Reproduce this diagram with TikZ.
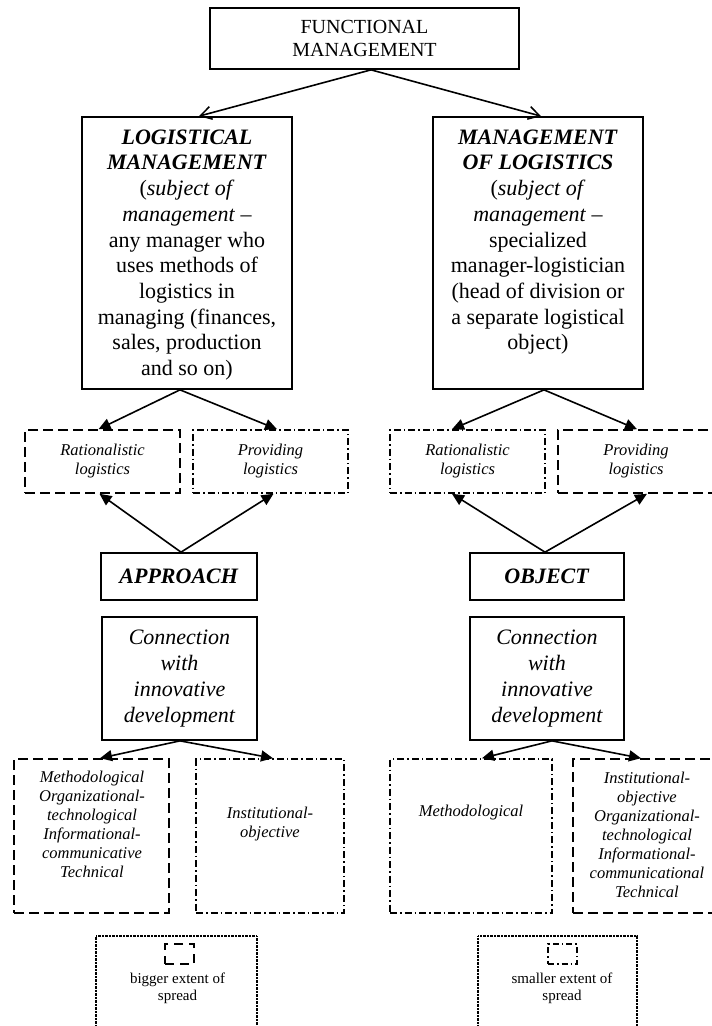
\documentclass[tikz,border=0pt]{standalone}
\usepackage{fontspec}
\setmainfont{Liberation Serif}
\usetikzlibrary{arrows.meta}
\tikzset{
  box/.style={draw, line width=1.7pt, inner sep=0pt},
  dbox/.style={draw, line width=1.6pt, inner sep=0pt, dash pattern=on 10pt off 5pt},
  ddbox/.style={draw, line width=1.6pt, inner sep=0pt, dash pattern=on 7pt off 3pt on 1.5pt off 3pt},
  lgbox/.style={draw, line width=1.2pt, inner sep=0pt, dash pattern=on 0.7pt off 0.7pt},
  bigtxt/.style={inner sep=0pt, align=center, font=\fontsize{22}{25.7}\selectfont},
  midtxt/.style={inner sep=0pt, align=center, font=\fontsize{20}{23}\selectfont},
  smalltxt/.style={inner sep=0pt, align=center, font=\fontsize{16.5}{19}\selectfont\itshape},
  legtxt/.style={inner sep=0pt, align=center, font=\fontsize{15}{17}\selectfont},
  openarr/.style={line width=1.6pt, -{Straight Barb[length=11pt,width=13pt,line width=1.5pt]}},
  fillarr/.style={line width=1.6pt, -{Triangle[length=12pt,width=11pt]}},
}
\begin{document}
\begin{tikzpicture}[x=1pt,y=-1pt]
\useasboundingbox (0,0) rectangle (712,1026);
% top
\node[box, minimum width=309pt, minimum height=61pt, midtxt] (fm) at (364.5,38.5) {FUNCTIONAL\\MANAGEMENT};
% big boxes
\node[box, minimum width=210pt, minimum height=272pt] (lm) at (187,253) {};
\node[bigtxt, anchor=north] (lmt) at (187,129.5) {\textbf{\textit{LOGISTICAL}}\\\textbf{\textit{MANAGEMENT}}\\(\textit{subject of}\\\textit{management} –\\any manager who\\uses methods of\\logistics in\\managing (finances,\\sales, production\\and so on)};
\node[box, minimum width=210pt, minimum height=272pt] (ml) at (538,253) {};
\node[bigtxt, anchor=north] (mlt) at (538,129.5) {\textbf{\textit{MANAGEMENT}}\\\textbf{\textit{OF LOGISTICS}}\\(\textit{subject of}\\\textit{management} –\\specialized\\manager-logistician\\(head of division or\\a separate logistical\\object)};
% row of small boxes
\node[dbox, minimum width=155pt, minimum height=63pt, smalltxt] (r1) at (102.5,461.5) {Rationalistic\\logistics};
\node[ddbox, minimum width=155pt, minimum height=63pt, smalltxt] (p1) at (270.5,461.5) {Providing\\logistics};
\node[ddbox, minimum width=155pt, minimum height=63pt, smalltxt] (r2) at (467.5,461.5) {Rationalistic\\logistics};
\node[dbox, minimum width=156pt, minimum height=63pt, smalltxt] (p2) at (636,461.5) {Providing\\logistics};
% approach / object
\node[box, minimum width=156pt, minimum height=47pt, bigtxt] (ap) at (179,576.5) {\textbf{\textit{APPROACH}}};
\node[box, minimum width=154pt, minimum height=47pt, bigtxt] (ob) at (547,576.5) {\textbf{\textit{OBJECT}}};
% connection
\node[box, minimum width=155pt, minimum height=123pt, bigtxt, font=\fontsize{22}{25.7}\selectfont\itshape] (c1) at (179.5,678.5) {Connection\\with\\innovative\\development};
\node[box, minimum width=154pt, minimum height=123pt, bigtxt, font=\fontsize{22}{25.7}\selectfont\itshape] (c2) at (547,678.5) {Connection\\with\\innovative\\development};
% lower boxes
\node[dbox, minimum width=155pt, minimum height=154pt] (m1) at (91.5,836) {};
\node[smalltxt] (m1t) at (92,824) {Methodological\\Organizational-\\technological\\Informational-\\communicative\\Technical};
\node[ddbox, minimum width=148pt, minimum height=154pt] (i1) at (270,836) {};
\node[smalltxt] (i1t) at (270,824) {Institutional-\\objective};
\node[ddbox, minimum width=162pt, minimum height=154pt] (m2) at (471,836) {};
\node[smalltxt] (m2t) at (471,813) {Methodological};
\node[dbox, minimum width=149pt, minimum height=154pt] (i2) at (647.5,836) {};
\node[smalltxt] (i2t) at (647,835) {Institutional-\\objective\\Organizational-\\technological\\Informational-\\communicational\\Technical};
% legend
\node[lgbox, minimum width=161pt, minimum height=110pt] (lg1) at (176.5,991) {};
\node[dbox, line width=1.4pt, dash pattern=on 9pt off 6pt, minimum width=29pt, minimum height=20pt] (ic1) at (179.5,954) {};
\node[legtxt] (lg1t) at (177.5,988.5) {bigger extent of\\spread};
\node[lgbox, minimum width=159pt, minimum height=110pt] (lg2) at (557.5,991) {};
\node[ddbox, line width=1.4pt, dash pattern=on 6pt off 3pt on 1.5pt off 3pt, minimum width=29pt, minimum height=20pt] (ic2) at (562.5,954) {};
\node[legtxt] (lg2t) at (562,988.5) {smaller extent of\\spread};
% arrows
\draw[openarr] ([xshift=6.5pt]fm.south) -- ([xshift=12pt]lm.north);
\draw[openarr] ([xshift=6.5pt]fm.south) -- ([xshift=3pt]ml.north);
\draw[fillarr] ([xshift=-7pt]lm.south) -- ([xshift=-4pt]r1.north);
\draw[fillarr] ([xshift=-7pt]lm.south) -- ([xshift=6.5pt]p1.north);
\draw[fillarr] ([xshift=6pt]ml.south) -- ([xshift=-15.5pt]r2.north);
\draw[fillarr] ([xshift=6pt]ml.south) -- ([xshift=1pt]p2.north);
\draw[fillarr] ([xshift=2pt]ap.north) -- ([xshift=-3pt]r1.south);
\draw[fillarr] ([xshift=2pt]ap.north) -- ([xshift=3pt]p1.south);
\draw[fillarr] ([xshift=-2pt]ob.north) -- ([xshift=-15.5pt]r2.south);
\draw[fillarr] ([xshift=-2pt]ob.north) -- ([xshift=11pt]p2.south);
\draw[fillarr] ([xshift=0.5pt]c1.south) -- ([xshift=8.5pt]m1.north);
\draw[fillarr] ([xshift=0.5pt]c1.south) -- ([xshift=3pt]i1.north);
\draw[fillarr] ([xshift=5pt]c2.south) -- ([xshift=11pt]m2.north);
\draw[fillarr] ([xshift=5pt]c2.south) -- ([xshift=-6.5pt]i2.north);
\end{tikzpicture}
\end{document}
